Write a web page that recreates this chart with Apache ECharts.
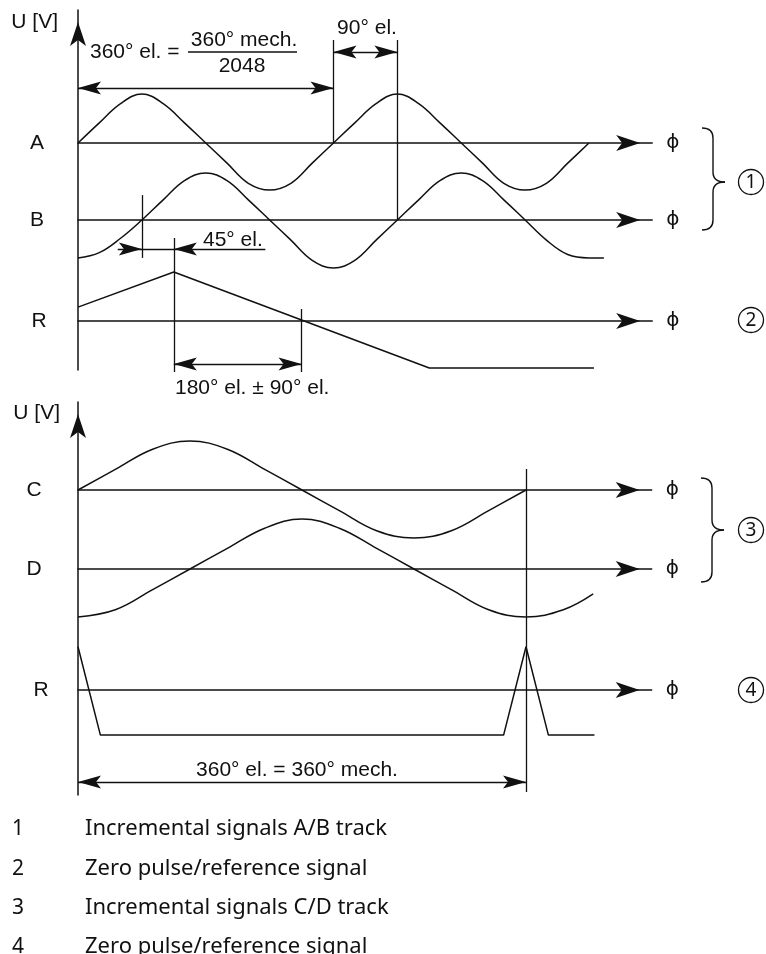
<!DOCTYPE html>
<html><head><meta charset="utf-8">
<script src="https://cdn.jsdelivr.net/npm/echarts@6/dist/echarts.min.js"></script>
<style>html,body{margin:0;padding:0;background:#fff}#c{width:766px;height:954px}</style>
</head><body><div id="c"></div>
<script>
// ---------------- data (x = electrical angle in degrees, y = normalised signal level) -------------
const trackLabels = ['A', 'B', 'R', 'C', 'D', 'R'];
const circledNumbers = ['1', '2', '3', '4'];
const legendNumbers = ['1', '2', '3', '4'];
const legendTexts = ['Incremental signals A/B track', 'Zero pulse/reference signal',
  'Incremental signals C/D track', 'Zero pulse/reference signal'];
const dimTexts = ['360° el. =', '360° mech.', '2048', '90° el.', '45° el.', '180° el. ± 90° el.', '360° el. = 360° mech.'];
const axisName = 'U [V]';
const phiName = '\u03D5';

// top diagram (A/B track, 360° el. = 360° mech./2048)
const sigA = [[0,0],[30,0.42],[60,0.82],[90,1.02],[120,0.82],[150,0.42],[180,0],[210,-0.42],[240,-0.84],[270,-0.98],[300,-0.84],[330,-0.42],[360,0],[390,0.42],[420,0.82],[450,1.02],[480,0.82],[510,0.42],[540,0],[570,-0.42],[600,-0.84],[630,-0.98],[660,-0.84],[690,-0.42],[720,0]];
const sigB = [[0,-0.79],[30,-0.68],[60,-0.38],[90,0],[120,0.42],[150,0.82],[180,0.98],[210,0.82],[240,0.42],[270,0],[300,-0.42],[330,-0.84],[360,-1.0],[390,-0.84],[420,-0.42],[450,0],[480,0.42],[510,0.82],[540,0.98],[570,0.82],[600,0.42],[630,0],[660,-0.42],[690,-0.72],[720,-0.79],[741,-0.79]];
const sigR1 = [[0,0.29],[135,1.02],[495,-0.98],[727,-0.98]];

// bottom diagram (C/D track, 360° el. = 360° mech.)
const sigC = [[0,0],[30,0.43],[60,0.85],[90,1.02],[120,0.85],[150,0.43],[180,0],[210,-0.43],[240,-0.85],[270,-1.0],[300,-0.85],[330,-0.43],[360,0]];
const sigD = [[0,-1.0],[30,-0.85],[60,-0.43],[90,0],[120,0.43],[150,0.85],[180,1.04],[210,0.85],[240,0.43],[270,0],[300,-0.43],[330,-0.85],[360,-1.0],[390,-0.85],[414,-0.52]];
const sigR2 = [[0,0.9],[18,-0.94],[342,-0.94],[360,0.9],[378,-0.94],[415,-0.94]];

// dimension / extension lines, in the same units as the track they belong to
const extLinesA = [[[360,0],[360,2.146]], [[450,2.146],[450,-1.604]]];
const dimLinesA = [[[0,1.146],[360,1.146]], [[360,1.896],[450,1.896]]];
const extLinesB = [[[90,0.52],[90,-0.79]]];
const extLinesR1 = [[[135,1.729],[135,-1.063]], [[315,0.25],[315,-1.063]]];
const dimLinesR1 = [[[56,1.5],[264,1.5]], [[135,-0.896],[315,-0.896]]];
const extLinesR2 = [[[360,4.604],[360,-2.125]]];
const dimLinesR2 = [[[0,-1.917],[360,-1.917]]];
const arrowsA = [[360,1.146,'R'],[0,1.146,'L'],[450,1.896,'R'],[360,1.896,'L']];
const arrowsR1 = [[90,1.5,'R'],[135,1.5,'L'],[135,-0.896,'L'],[315,-0.896,'R']];
const arrowsR2 = [[0,-1.917,'L'],[360,-1.917,'R']];

// ---------------- layout -------------
const K1 = 255.5 / 360, K2 = 448 / 360, X0 = 78;
const TOP_MAX = 809, BOT_MAX = 461;
const W1 = TOP_MAX * K1, W2 = BOT_MAX * K2;
const AMP = 48;
const baselines = [143, 220, 321, 490, 569, 690];
const INK = '#111';
const DIA_FONT = 'Liberation Sans, Arial, sans-serif';
const ARROW_R = 'path://M0,0L23,6.5L0,13L5,6.5Z M46,6.5L46,6.5';
const ARROW_L = 'path://M46,0L23,6.5L46,13L41,6.5Z M0,6.5L0,6.5';

const grids = [
  {left: X0, top: 10, width: 10, height: 360},               // 0 top vertical axis
  {left: X0, top: baselines[0]-AMP, width: W1, height: 2*AMP}, // 1 A
  {left: X0, top: baselines[1]-AMP, width: W1, height: 2*AMP}, // 2 B
  {left: X0, top: baselines[2]-AMP, width: W1, height: 2*AMP}, // 3 R
  {left: X0, top: 402, width: 10, height: 393},              // 4 bottom vertical axis
  {left: X0, top: baselines[3]-AMP, width: W2, height: 2*AMP}, // 5 C
  {left: X0, top: baselines[4]-AMP, width: W2, height: 2*AMP}, // 6 D
  {left: X0, top: baselines[5]-AMP, width: W2, height: 2*AMP}  // 7 R
].map(g => Object.assign({outerBoundsMode: 'none', containLabel: false}, g));

const arrowLine = {show: true, onZero: true, symbol: ['none', 'arrow'], symbolSize: [12, 24], symbolOffset: [0, -12],
  lineStyle: {color: INK, width: 1.5}};

const xAxes = grids.map((g, i) => {
  if (i === 0 || i === 4) return {type: 'value', gridIndex: i, min: 0, max: 1, show: false};
  return {type: 'value', gridIndex: i, min: 0, max: i < 4 ? TOP_MAX : BOT_MAX,
    axisLine: arrowLine, axisTick: {show: false}, axisLabel: {show: false}, splitLine: {show: false},
    name: phiName, nameLocation: 'end', nameGap: 14,
    nameTextStyle: {fontFamily: 'DejaVu Sans', fontSize: 20, color: INK, align: 'left', verticalAlign: 'middle'}};
});
const yAxes = grids.map((g, i) => {
  if (i === 0 || i === 4) return {type: 'value', gridIndex: i, min: 0, max: 1, position: 'left',
    axisLine: arrowLine, axisTick: {show: false}, axisLabel: {show: false}, splitLine: {show: false}};
  return {type: 'value', gridIndex: i, min: -1, max: 1, show: false};
});

function curve(data, gi, smooth) {
  return {type: 'line', xAxisIndex: gi, yAxisIndex: gi, data: data, smooth: smooth, showSymbol: false,
    clip: false, silent: true, lineStyle: {color: INK, width: 1.5}, emphasis: {disabled: true}};
}
function segs(list, gi, w) {
  return {type: 'lines', coordinateSystem: 'cartesian2d', xAxisIndex: gi, yAxisIndex: gi, clip: false, silent: true,
    symbol: 'none', lineStyle: {color: INK, width: w, opacity: 1, curveness: 0},
    data: list.map(c => ({coords: c}))};
}
function heads(list, gi) {
  return {type: 'scatter', xAxisIndex: gi, yAxisIndex: gi, clip: false, silent: true, symbolSize: [46, 13],
    itemStyle: {color: INK, opacity: 1}, emphasis: {disabled: true},
    data: list.map(a => ({value: [a[0], a[1]], symbol: a[2] === 'R' ? ARROW_R : ARROW_L}))};
}

const series = [
  curve(sigA, 1, 0.4), curve(sigB, 2, 0.4), curve(sigR1, 3, false),
  curve(sigC, 5, 0.4), curve(sigD, 6, 0.4), curve(sigR2, 7, false),
  segs(extLinesA, 1, 1.3), segs(dimLinesA, 1, 1.3), segs(extLinesB, 2, 1.3),
  segs(extLinesR1, 3, 1.3), segs(dimLinesR1, 3, 1.3), segs(extLinesR2, 7, 1.3), segs(dimLinesR2, 7, 1.3),
  heads(arrowsA, 1), heads(arrowsR1, 3), heads(arrowsR2, 7)
];

// ---------------- annotation graphics -------------
function txt(s, x, y, align, size, font) {
  return {type: 'text', silent: true, style: {text: s, x: x, y: y, align: align, verticalAlign: 'middle',
    font: (size || 20) + 'px ' + (font || DIA_FONT), fill: INK}};
}
function brace(x, yT, yM, yB) {
  const xs = x + 11, xt = x + 23, r = 10;
  const st = {stroke: INK, lineWidth: 1.4, fill: null};
  return [
    {type: 'bezierCurve', silent: true, shape: {x1: x, y1: yT, cpx1: xs, cpy1: yT, x2: xs, y2: yT + r}, style: st},
    {type: 'line', silent: true, shape: {x1: xs, y1: yT + r, x2: xs, y2: yM - r}, style: st},
    {type: 'bezierCurve', silent: true, shape: {x1: xs, y1: yM - r, cpx1: xs, cpy1: yM, x2: xt, y2: yM}, style: st},
    {type: 'bezierCurve', silent: true, shape: {x1: xt, y1: yM, cpx1: xs, cpy1: yM, x2: xs, y2: yM + r}, style: st},
    {type: 'line', silent: true, shape: {x1: xs, y1: yM + r, x2: xs, y2: yB - r}, style: st},
    {type: 'bezierCurve', silent: true, shape: {x1: xs, y1: yB - r, cpx1: xs, cpy1: yB, x2: x, y2: yB}, style: st}
  ];
}
function circled(n, cx, cy) {
  return [
    {type: 'circle', silent: true, shape: {cx: cx, cy: cy, r: 12.5}, style: {fill: null, stroke: INK, lineWidth: 1.3}},
    txt(n, cx, cy + 1, 'center', 19, 'Noto Sans, sans-serif')
  ];
}

const labelX = [37, 37, 39, 34, 34, 41];
let graphics = [
  txt(axisName, 58, 22, 'right', 21), txt(axisName, 60, 413, 'right', 21),
  txt(dimTexts[0], 90, 52, 'left', 21),
  txt(dimTexts[1], 244, 40, 'center', 21),
  {type: 'line', silent: true, shape: {x1: 188, y1: 52, x2: 297, y2: 52}, style: {stroke: INK, lineWidth: 1.3}},
  txt(dimTexts[2], 242, 66, 'center', 21),
  txt(dimTexts[3], 367, 28, 'center', 21),
  txt(dimTexts[4], 203, 240, 'left', 21),
  txt(dimTexts[5], 175, 388, 'left', 21),
  txt(dimTexts[6], 297, 770, 'center', 21)
];
trackLabels.forEach((t, i) => graphics.push(txt(t, labelX[i], baselines[i], 'center', 21)));
graphics = graphics.concat(brace(702, 128, 182, 230), brace(701, 478, 530, 582));
graphics = graphics.concat(circled(circledNumbers[0], 751, 182), circled(circledNumbers[1], 751, 320),
  circled(circledNumbers[2], 751, 530), circled(circledNumbers[3], 751, 690));
const legendY = [829, 869, 908, 947];
legendNumbers.forEach((n, i) => {
  graphics.push(txt(n, 12, legendY[i], 'left', 21, 'Noto Sans, sans-serif'));
  graphics.push(txt(legendTexts[i], 85, legendY[i], 'left', 22, 'Noto Sans, sans-serif'));
});

const chart = echarts.init(document.getElementById('c'), null, {renderer: 'canvas'});
chart.setOption({
  animation: false,
  backgroundColor: '#fff',
  grid: grids, xAxis: xAxes, yAxis: yAxes, series: series,
  graphic: {elements: graphics}
});
</script></body></html>
